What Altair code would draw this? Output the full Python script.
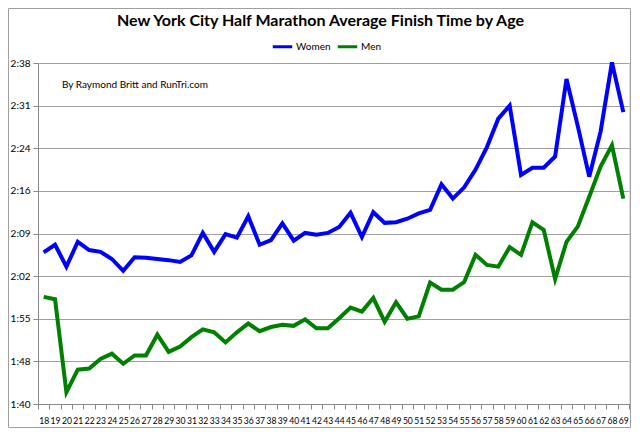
import altair as alt
import pandas as pd

ages = list(range(18, 70))

# average finish time in minutes
women = [126.0, 127.3, 123.6, 127.8, 126.4, 126.1, 124.9, 122.9, 125.2, 125.1,
         124.9, 124.7, 124.4, 125.5, 129.3, 126.1, 129.1, 128.5, 132.1, 127.3,
         128.1, 130.9, 128.0, 129.3, 129.0, 129.3, 130.3, 132.7, 128.6, 132.8,
         131.0, 131.1, 131.7, 132.6, 133.2, 137.5, 135.1, 137.0, 140.0, 143.8,
         148.6, 150.8, 139.1, 140.3, 140.3, 142.2, 155.3, 147.3, 138.8, 146.4,
         158.1, 149.7]
men = [118.5, 118.1, 102.4, 106.2, 106.4, 108.0, 108.9, 107.2, 108.6, 108.6,
       112.1, 109.2, 110.1, 111.7, 113.0, 112.5, 110.8, 112.5, 114.0, 112.7,
       113.4, 113.8, 113.6, 114.7, 113.2, 113.2, 114.9, 116.7, 116.0, 118.3,
       114.3, 117.6, 114.8, 115.2, 120.9, 119.7, 119.7, 121.0, 125.6, 123.9,
       123.6, 126.9, 125.6, 131.1, 129.8, 121.5, 127.8, 130.4, 135.4, 140.5,
       144.1, 135.1]

series = ["Women", "Men"]
colors = ["#0000ff", "#008000"]
y_min = 100.4
y_step = 7.2
y_ticks = [round(y_min + y_step * k, 2) for k in range(9)]
title_text = "New York City Half Marathon Average Finish Time by Age"
note_text = "By Raymond Britt and RunTri.com"

df = pd.concat([
    pd.DataFrame({"age": ages, "minutes": women, "sex": "Women"}),
    pd.DataFrame({"age": ages, "minutes": men, "sex": "Men"}),
])

W, H = 591, 341
FONT = "Lato"

label_expr = ("floor(round(datum.value)/60) + ':' + "
              "(round(datum.value) % 60 < 10 ? '0' : '') + (round(datum.value) % 60)")

lines = alt.Chart(df).mark_line(strokeWidth=4).encode(
    x=alt.X("age:O", bandPosition=0.5,
            scale=alt.Scale(type="band", paddingInner=0, paddingOuter=0),
            axis=alt.Axis(title=None, labelAngle=0, tickBand="extent",
                          labelFontSize=8.6, labelOverlap=False, labelPadding=7,
                          tickSize=5, tickColor="#888888", domainColor="#888888",
                          labelColor="#000000", grid=False, labelFont=FONT)),
    y=alt.Y("minutes:Q",
            scale=alt.Scale(domain=[y_min, 158], nice=False, zero=False),
            axis=alt.Axis(title=None, values=y_ticks, labelExpr=label_expr,
                          grid=True, gridColor="#a0a0a0", tickSize=5,
                          tickColor="#888888", domainColor="#888888",
                          labelFontSize=10, labelColor="#000000", labelPadding=3,
                          labelFont=FONT)),
    color=alt.Color("sex:N",
                    scale=alt.Scale(domain=series, range=colors),
                    sort=series,
                    legend=alt.Legend(title=None, orient="none", legendX=233,
                                      legendY=-28, direction="horizontal",
                                      symbolType="stroke", symbolStrokeWidth=3,
                                      symbolSize=380, labelFontSize=10,
                                      labelFont=FONT, columnPadding=0,
                                      labelOffset=2)),
)

note = alt.Chart(pd.DataFrame({"t": [note_text]})).mark_text(
    align="left", baseline="middle", fontSize=10, font=FONT, color="#000000"
).encode(x=alt.value(24), y=alt.value(22), text="t:N")

title = alt.Chart(pd.DataFrame({"t": [title_text]})).mark_text(
    align="center", baseline="middle", fontSize=16, font=FONT,
    fontWeight="bold", color="#000000"
).encode(x=alt.value(W / 2 - 13), y=alt.value(-42), text="t:N")

border = alt.Chart(pd.DataFrame({"a": [0]})).mark_rect(
    filled=False, stroke="#a0a0a0", strokeWidth=1
).encode(x=alt.value(-29.5), x2=alt.value(W + 1.5),
         y=alt.value(-54.5), y2=alt.value(H + 23.5))

chart = alt.layer(border, lines, note, title).properties(
    width=W, height=H,
    autosize=alt.AutoSizeParams(type="none"),
    padding={"left": 30, "top": 55, "right": 2, "bottom": 24},
).configure_view(stroke=None).configure(background="white")

chart.save("out.html", embed_options={"renderer": "svg", "actions": False})
